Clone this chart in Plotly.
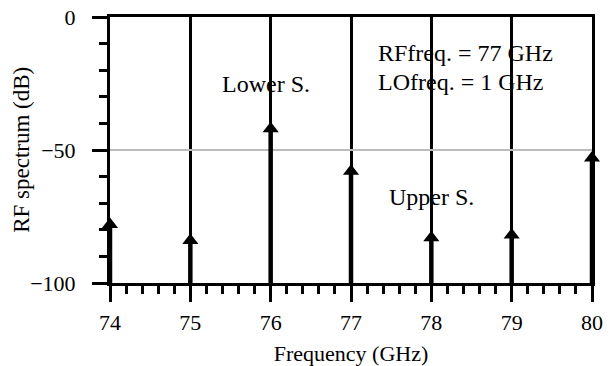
import plotly.graph_objects as go

freqs = [74, 75, 76, 77, 78, 79, 80]
levels = [-78, -84, -42, -58, -83, -82, -53]
floor_db = -100

xs, ys = [], []
for f, v in zip(freqs, levels):
    xs += [f, f, None]
    ys += [floor_db, v, None]

fig = go.Figure()
fig.add_trace(go.Scatter(x=xs, y=ys, mode="lines",
                         line=dict(color="black", width=4.5),
                         hoverinfo="skip", cliponaxis=False))
fig.add_trace(go.Scatter(x=freqs, y=levels, mode="markers",
                         marker=dict(symbol="triangle-up", size=14, color="black"),
                         cliponaxis=False))

fam = "Liberation Serif, Times New Roman, serif"
afont = dict(family=fam, size=24, color="black")

fig.add_annotation(x=75.94, y=-25, text="Lower S.", showarrow=False, font=afont)
fig.add_annotation(x=78.0, y=-67.5, text="Upper S.", showarrow=False, font=afont)
fig.add_annotation(x=77.31, y=-13.5, text="RFfreq. = 77 GHz", showarrow=False,
                   xanchor="left", font=afont)
fig.add_annotation(x=77.31, y=-24.5, text="LOfreq. = 1 GHz", showarrow=False,
                   xanchor="left", font=afont)
# y-axis title placed as annotation for precise positioning
fig.add_annotation(xref="paper", yref="paper", x=-0.185, y=0.5,
                   text="RF spectrum (dB)", textangle=-90, showarrow=False,
                   xanchor="center", yanchor="middle",
                   font=dict(family=fam, size=23, color="black"))

fig.update_layout(
    width=615, height=366,
    margin=dict(l=110, r=23, t=17, b=83),
    paper_bgcolor="white", plot_bgcolor="white",
    showlegend=False,
    font=dict(family=fam, size=22, color="black"),
)
fig.update_xaxes(
    range=[74, 80], dtick=1, tick0=74, automargin=False,
    showgrid=True, gridcolor="black", gridwidth=3,
    showline=True, linecolor="black", linewidth=3, mirror=True,
    ticks="outside", ticklen=16, tickwidth=3, tickcolor="black",
    minor=dict(dtick=0.2, ticks="outside", ticklen=8, tickwidth=3, tickcolor="black", showgrid=False),
    zeroline=False,
    ticklabelstandoff=2,
    title=dict(text="Frequency (GHz)", font=dict(size=22)),
    tickfont=dict(size=22),
)
fig.update_yaxes(
    range=[-100, 0], dtick=50, tick0=0, automargin=False,
    showgrid=True, gridcolor="#bbbbbb", gridwidth=2,
    showline=True, linecolor="black", linewidth=3, mirror=True,
    ticks="outside", ticklen=15, tickwidth=3, tickcolor="black",
    minor=dict(dtick=10, ticks="outside", ticklen=8, tickwidth=3, tickcolor="black", showgrid=False),
    zeroline=False,
    ticklabelstandoff=12,
    tickfont=dict(size=22),
)

fig.write_html("out.html")
